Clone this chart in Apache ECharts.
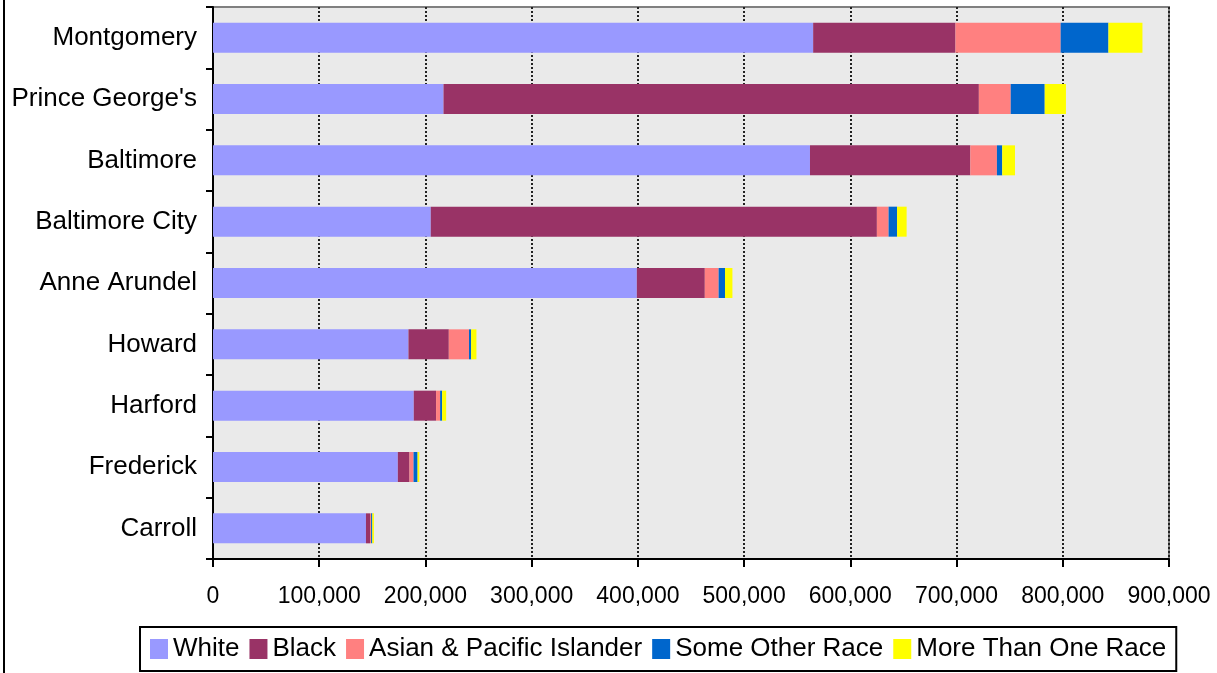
<!DOCTYPE html>
<html>
<head>
<meta charset="utf-8">
<script src="https://cdn.jsdelivr.net/npm/echarts@6/dist/echarts.min.js"></script>
<style>
html,body{margin:0;padding:0;background:#fff;}
#chart{width:1217px;height:673px;}
</style>
</head>
<body>
<div id="chart"></div>
<script>
const categories = ['Montgomery', "Prince George's", 'Baltimore', 'Baltimore City', 'Anne Arundel', 'Howard', 'Harford', 'Frederick', 'Carroll'];
const seriesNames = ['White', 'Black', 'Asian & Pacific Islander', 'Some Other Race', 'More Than One Race'];
const white = [565000, 217000, 562000, 205000, 399000, 184000, 189000, 174000, 144000];
const black = [134000, 504000, 151000, 420000, 64000, 38000, 21000, 11000, 3800];
const asian = [99000, 30000, 25000, 11000, 13000, 19000, 3800, 3800, 1000];
const other = [45000, 32000, 5000, 8000, 6000, 2000, 1900, 3800, 1200];
const more = [32000, 20000, 12000, 9000, 7000, 5000, 3800, 1600, 1500];
const xTicks = [0, 100000, 200000, 300000, 400000, 500000, 600000, 700000, 800000, 900000];

const colors = ['#9999FF', '#993366', '#FF8080', '#0066CC', '#FFFF00'];
const values = [white, black, asian, other, more];
const FONT = '"Liberation Sans", Arial, sans-serif';

const chart = echarts.init(document.getElementById('chart'));
chart.setOption({
  animation: false,
  textStyle: { fontFamily: FONT },
  color: colors,
  graphic: [{
    type: 'line',
    shape: { x1: 4, y1: 0, x2: 4, y2: 673 },
    style: { stroke: '#000', lineWidth: 2 }
  }],
  grid: {
    left: 213, right: 48, top: 7, bottom: 114,
    show: true, backgroundColor: '#EAEAEA',
    borderColor: '#808080', borderWidth: 2
  },
  legend: {
    data: seriesNames,
    left: 140, top: 627,
    orient: 'horizontal',
    icon: 'rect',
    itemWidth: 18, itemHeight: 20,
    itemGap: 10,
    padding: [9, 10, 9, 10],
    borderColor: '#000', borderWidth: 2,
    backgroundColor: '#fff',
    textStyle: { fontSize: 26, color: '#000', fontFamily: FONT }
  },
  xAxis: {
    type: 'value',
    min: xTicks[0], max: xTicks[xTicks.length - 1], interval: 100000,
    axisLine: { show: true, lineStyle: { color: '#000', width: 2 } },
    axisTick: { show: true, length: 8, lineStyle: { color: '#000', width: 2 } },
    axisLabel: {
      fontSize: 23, color: '#000', margin: 26, fontFamily: FONT,
      formatter: v => v.toLocaleString('en-US')
    },
    splitLine: { show: true, lineStyle: { color: '#222', width: 2, type: [2, 2] } }
  },
  yAxis: {
    type: 'category',
    data: categories,
    inverse: true,
    axisLine: { show: true, lineStyle: { color: '#000', width: 2 } },
    axisTick: { show: true, length: 7, lineStyle: { color: '#000', width: 2 } },
    axisLabel: { fontSize: 26, color: '#000', margin: 16, padding: [5, 0, 0, 0], fontFamily: FONT },
    splitLine: { show: false }
  },
  series: seriesNames.map((name, i) => ({
    name: name,
    type: 'bar',
    stack: 'total',
    barWidth: 30,
    data: values[i],
    itemStyle: { color: colors[i] }
  }))
});
</script>
</body>
</html>
